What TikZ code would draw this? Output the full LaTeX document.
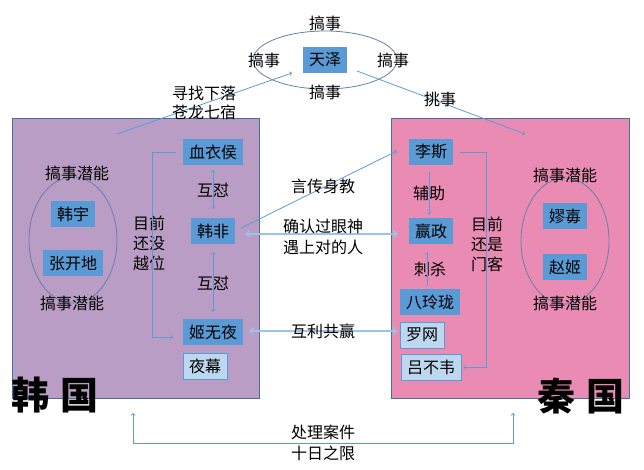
\documentclass[tikz,border=0pt]{standalone}
\usepackage{fontspec}
\usepackage{xcolor}
\setmainfont{Noto Sans CJK SC}
\definecolor{hanpurple}{HTML}{BA9DC4}
\definecolor{qinpink}{HTML}{EA8BB3}
\definecolor{boxblue}{HTML}{5B9BD5}
\definecolor{paleblue}{HTML}{BDD7EE}
\definecolor{edgeblue}{HTML}{41719C}
\definecolor{ringblue}{HTML}{6281A8}
\definecolor{softblue}{HTML}{9DC3E6}

\begin{document}
\begin{tikzpicture}[x=1pt, y=-1pt,
  panel/.style={rectangle, draw=edgeblue, line width=0.9pt, inner sep=0pt},
  hot/.style={rectangle, fill=boxblue, minimum height=26pt, inner xsep=6pt, inner ysep=0pt, font=\fontsize{16}{19}\selectfont},
  pale/.style={rectangle, fill=paleblue, draw=boxblue, line width=0.9pt, minimum height=26pt, inner xsep=6pt, inner ysep=0pt, font=\fontsize{16}{19}\selectfont},
  tag/.style={inner sep=0pt, align=center, font=\fontsize{16}{20}\selectfont},
  ring/.style={draw=ringblue, line width=0.8pt},
  link/.style={->, draw=boxblue, line width=0.8pt},
  duo/.style={<->, draw=softblue, line width=1.8pt},
  seal/.style={inner sep=0pt, font=\fontsize{38}{38}\selectfont\bfseries}]

  \useasboundingbox (0,0) rectangle (644,470);

  % the two states
  \node[panel, fill=hanpurple, minimum width=247pt, minimum height=280pt] (Han) at (135.5,258) {};
  \node[panel, fill=qinpink, minimum width=238pt, minimum height=280pt] (Qin) at (510,258) {};

  % Tianze and his ring
  \draw[ring] (325,60) ellipse [x radius=72pt, y radius=29pt];
  \node[hot] (TianZe) at (325,60) {天泽};
  \node[tag] (GaoTop) at (325,23) {搞事};
  \node[tag] (GaoLeft) at (264,60) {搞事};
  \node[tag] (GaoRight) at (393,60) {搞事};
  \node[tag] (GaoBottom) at (325,92) {搞事};

  % Han side
  \node[hot] (XueYiHou) at (213,152) {血衣侯};
  \node[hot, below of=XueYiHou, node distance=79pt] (HanFei) {韩非};
  \node[hot, below of=HanFei, node distance=101pt] (JiWuYe) {姬无夜};
  \node[pale, below of=JiWuYe, node distance=34pt, xshift=-8pt] (YeMu) {夜幕};
  \node[tag] (HuDuiTop) at (213,190) {互怼};
  \node[tag] (HuDuiBottom) at (213,283) {互怼};
  \node[tag, font=\fontsize{16}{20}\selectfont] (MeiYueWei) at (149,243) {目前\\还没\\越位};

  \draw[ring] (73,240) ellipse [x radius=44pt, y radius=63pt];
  \node[hot] (HanYu) at (73,214) {韩宇};
  \node[hot] (ZhangKaiDi) at (73,263) {张开地};
  \node[tag] (HanPotTop) at (77,173) {搞事潜能};
  \node[tag] (HanPotBottom) at (72,303) {搞事潜能};
  \node[seal] (HanName) at (55,395) {韩\hspace{12pt}国};

  % Qin side
  \node[hot] (LiSi) at (431,152) {李斯};
  \node[hot, below of=LiSi, node distance=79pt] (YingZheng) {赢政};
  \node[hot] (BaLingLong) at (430,302) {八玲珑};
  \node[pale] (LuoWang) at (422,335) {罗网};
  \node[pale] (LvBuWei) at (431,367) {吕不韦};
  \node[tag] (FuZhu) at (429,193) {辅助};
  \node[tag] (CiSha) at (430,269) {刺杀};
  \node[tag] (HaiShiMenKe) at (487,244) {目前\\还是\\门客};

  \draw[ring] (565,241) ellipse [x radius=44pt, y radius=63pt];
  \node[hot] (LaoAi) at (565,216) {嫪毐};
  \node[hot] (ZhaoJi) at (565,267) {赵姬};
  \node[tag] (QinPotTop) at (565,175) {搞事潜能};
  \node[tag] (QinPotBottom) at (565,303) {搞事潜能};
  \node[seal] (QinName) at (581,396) {秦\hspace{12pt}国};

  % free ends
  \coordinate (HanTop) at (117,134);
  \coordinate (TianZeIn) at (292,73);
  \coordinate (TianZeOut) at (357,71);
  \coordinate (QinTop) at (525,134);
  \coordinate (HanFoot) at (133,413);
  \coordinate (QinFoot) at (513,413);

  % edges
  \draw[link] (HanTop) -- (TianZeIn);
  \node[tag, font=\fontsize{16}{19}\selectfont] (XunZhao) at (204,103) {寻找下落\\苍龙七宿};
  \draw[link] (TianZeOut) -- (QinTop);
  \node[tag] (TiaoShi) at (440,99) {挑事};

  \draw[link, <->, shorten <=5pt, shorten >=9pt] (XueYiHou) -- (HanFei);
  \draw[link, <->, shorten <=8pt, shorten >=7pt] (HanFei) -- (JiWuYe);
  \draw[link] ([xshift=-7pt]XueYiHou.west) -- ++(-23,0) |- ([xshift=-10pt,yshift=-5pt]JiWuYe.west);

  \draw[link] ([xshift=-2pt,yshift=-7pt]LiSi.south) -- ([xshift=-2pt,yshift=3pt]YingZheng.north);
  \draw[link] ([xshift=-3pt,yshift=3pt]BaLingLong.north) -- ([xshift=-4pt,yshift=-8pt]YingZheng.south);
  \draw[link] ([xshift=7pt]LiSi.east) -- ++(26,0) |- ([xshift=2pt]LvBuWei.east);

  \draw[link] ([xshift=6pt,yshift=3pt]HanFei.east) -- ([xshift=-12pt,yshift=1pt]LiSi.west);
  \node[tag] (YanChuan) at (323,186) {言传身教};
  \draw[duo] ([xshift=10pt,yshift=-3pt]HanFei.east) -- ([xshift=-11pt,yshift=-3pt]YingZheng.west);
  \node[tag, font=\fontsize{16}{21}\selectfont] (YanShen) at (323,236.5) {确认过眼神\\遇上对的人};
  \draw[duo] ([xshift=6pt,yshift=1pt]JiWuYe.east) -- ([xshift=-2pt,yshift=4pt]LuoWang.west);
  \node[tag] (HuLi) at (323,331) {互利共赢};

  \draw[link, <->] (HanFoot) -- ++(0,30) -| (QinFoot);
  \node[tag, font=\fontsize{16}{21}\selectfont] (ShiRi) at (323,442.5) {处理案件\\十日之限};

\end{tikzpicture}
\end{document}
